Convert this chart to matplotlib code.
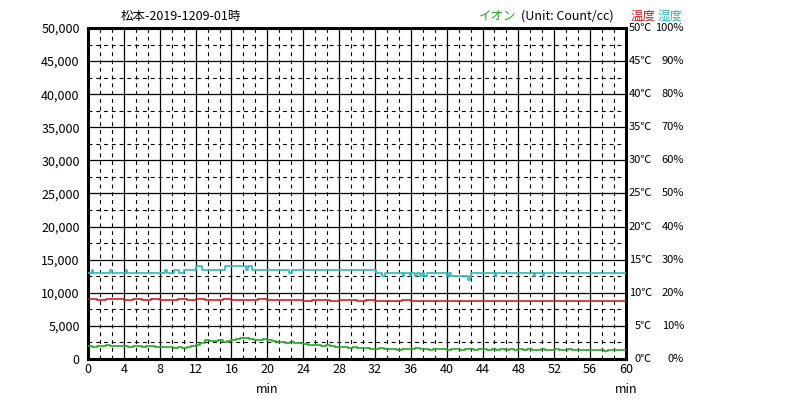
import matplotlib
matplotlib.use("Agg")
import matplotlib.pyplot as plt
import numpy as np

plt.rcParams['font.family'] = ['Noto Sans CJK JP', 'DejaVu Sans']

title = "松本-2019-1209-01時"

# ion count, every 0.5 min from 0 to 60
ion_time = np.arange(0, 60.5, 0.5)
ion_count = [
    1950, 1850, 2000, 1900, 2050, 1950, 1900, 2000, 1950,
    1850, 1900, 1950, 1850, 1900, 2000, 1850, 1800,
    1750, 1850, 1650, 1750, 1600, 1800, 2000, 2150,
    2400, 2850, 2750, 2650, 2800, 2600, 2700, 2800,
    3000, 3150, 3100, 2950, 2900, 2850, 2950, 2800,
    2750, 2600, 2500, 2450, 2550, 2400, 2350, 2250,
    2150, 2100, 2050, 2000, 2050, 1900, 1850, 1800,
    1750, 1700, 1750, 1650, 1600, 1650, 1550, 1500,
    1600, 1450, 1550, 1500, 1400, 1550, 1450, 1500,
    1600, 1450, 1500, 1400, 1550, 1450, 1500, 1350,
    1450, 1550, 1400, 1500, 1450, 1400, 1500, 1450,
    1400, 1500, 1350, 1450, 1400, 1500, 1400, 1450,
    1350, 1450, 1400, 1300, 1450, 1400, 1350, 1450,
    1400, 1300, 1450, 1350, 1400, 1300, 1400, 1350,
    1300, 1400, 1250, 1350, 1300, 1400, 1300, 1350,
]

# temperature (deg C), every minute
temp_time = np.arange(0, 61, 1)
temp_c = [
    9.0, 8.9, 9.0, 9.0, 8.9, 9.0, 8.9, 9.0, 8.9, 8.9, 9.0,
    8.9, 9.0, 8.9, 8.9, 9.0, 8.9, 8.9, 8.9, 9.0, 8.9,
    8.9, 8.9, 8.9, 8.8, 8.9, 8.9, 8.8, 8.9, 8.9, 8.8,
    8.9, 8.8, 8.8, 8.8, 8.9, 8.8, 8.8, 8.8, 8.8, 8.8,
    8.8, 8.8, 8.7, 8.8, 8.8, 8.8, 8.7, 8.8, 8.8, 8.7,
    8.8, 8.7, 8.7, 8.8, 8.7, 8.7, 8.8, 8.7, 8.7, 8.7,
]

# humidity (%) change points
hum_time = [0, 0.4, 0.6, 2.4, 2.7, 4.2, 4.4, 8.6, 8.8, 9.6, 10.1, 10.7,
            12.0, 12.7, 15.3, 17.6, 17.8, 18.3, 22.4, 22.7, 32.1, 32.8, 33.1,
            35.1, 35.2, 35.9, 36.0, 36.5, 36.7, 37.0, 37.3, 37.5, 37.8,
            40.0, 40.3, 40.5, 40.9, 42.4, 42.6, 42.7, 45.4, 45.5,
            49.7, 49.8, 50.7, 50.8, 60]
hum_pct = [26, 27, 26, 27, 26, 27, 26, 27, 26, 27, 26, 27,
           28, 27, 28, 27, 28, 27, 26, 27, 26, 25, 26,
           25, 26, 25, 26, 25, 26, 25, 26, 25, 26,
           25, 26, 25, 25, 24, 25, 26, 25, 26,
           25, 26, 25, 26, 26]

fig = plt.figure(figsize=(7.86, 3.99), dpi=100)
ax = fig.add_axes([88/786, 1-359/399, (626-88)/786, (359-28)/399])

green = "#22a822"
red = "#cc2020"
teal = "#30b8b8"

ax.plot(hum_time, np.array(hum_pct)*500, color=teal, lw=1.2, drawstyle='steps-post', zorder=3)
ax.plot(temp_time, np.array(temp_c)*1000, color=red, lw=1.2, drawstyle='steps-post', zorder=3)
ax.plot(ion_time, ion_count, color=green, lw=1.2, drawstyle='steps-post', zorder=3)

ax.set_xlim(0, 60)
ax.set_ylim(0, 50000)

# grid
for v in np.arange(5000, 50000, 5000):
    ax.axhline(v, color='black', lw=0.9, zorder=1)
for v in np.arange(2500, 50000, 5000):
    ax.axhline(v, color='black', lw=0.8, ls=(0, (3.5, 3.5)), zorder=1)
for v in np.arange(4, 60, 4):
    ax.axvline(v, color='black', lw=0.9, zorder=1)
for v in np.arange(0, 60, 4):
    for f in (4/3, 8/3):
        ax.axvline(v+f, color='black', lw=0.8, ls=(0, (3.5, 3.5)), zorder=1)

for s in ax.spines.values():
    s.set_linewidth(2.2)

ax.set_xticks(np.arange(0, 61, 4))
ax.set_yticks(np.arange(0, 50001, 5000))
ax.set_yticklabels([f"{v:,}" for v in range(0, 50001, 5000)])
ax.tick_params(length=0, labelsize=9)
ax.tick_params(axis='x', pad=3)
ax.tick_params(axis='y', pad=6)

for x in (20, 60):
    ax.text(x, -3600, "min", ha='center', va='top', fontsize=9)

for i in range(11):
    ax.text((652-88)/538, i/10, f"{i*5}℃", transform=ax.transAxes, ha='right', va='center', fontsize=8)
    ax.text((684-88)/538, i/10, f"{i*10}%", transform=ax.transAxes, ha='right', va='center', fontsize=8)

fig.text(181/786, 1-16/399, title, ha='center', va='center', fontsize=9)
fig.text(498/786, 1-16/399, "イオン", ha='center', va='center', fontsize=9, color=green)
fig.text(567/786, 1-16/399, "(Unit: Count/cc)", ha='center', va='center', fontsize=9)
fig.text(643/786, 1-16/399, "温度", ha='center', va='center', fontsize=9, color=red)
fig.text(670/786, 1-16/399, "湿度", ha='center', va='center', fontsize=9, color=teal)

fig.savefig("out.png", dpi=100)
